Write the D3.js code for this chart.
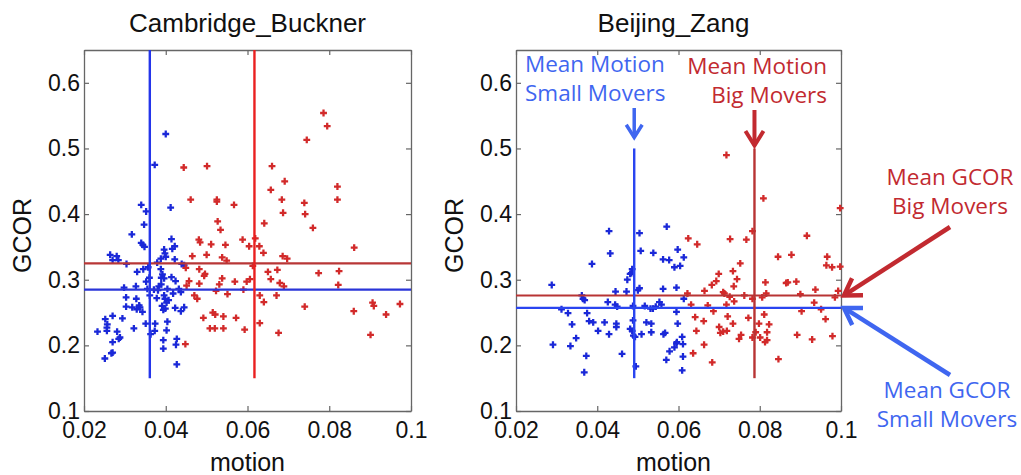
<!DOCTYPE html>
<html>
<head>
<meta charset="utf-8">
<script src="https://cdn.jsdelivr.net/npm/d3@7"></script>
<style>
  body { margin: 0; background: #fff; }
  svg { display: block; }
</style>
</head>
<body>
<div id="chart"></div>
<script>
// Data: [motion, GCOR]
var cambSmall = [
  [0.0400,0.522],[0.0373,0.475],[0.0340,0.414],[0.0352,0.404],[0.0412,0.410],[0.0347,0.384],
  [0.0317,0.369],[0.0414,0.362],[0.0340,0.356],[0.0344,0.353],[0.0348,0.350],[0.0396,0.346],
  [0.0416,0.347],[0.0422,0.351],[0.0280,0.336],[0.0270,0.330],[0.0284,0.330],[0.0388,0.332],
  [0.0400,0.335],[0.0398,0.340],[0.0422,0.331],[0.0304,0.324],[0.0379,0.326],[0.0445,0.322],
  [0.0357,0.319],[0.0345,0.316],[0.0330,0.312],[0.0388,0.316],[0.0392,0.308],[0.0389,0.303],
  [0.0396,0.302],[0.0360,0.303],[0.0414,0.304],[0.0424,0.298],[0.0352,0.297],[0.0389,0.293],
  [0.0383,0.290],[0.0298,0.288],[0.0327,0.290],[0.0355,0.286],[0.0371,0.285],[0.0381,0.284],
  [0.0404,0.286],[0.0432,0.286],[0.0437,0.281],[0.0418,0.279],[0.0361,0.276],[0.0378,0.272],
  [0.0396,0.276],[0.0398,0.271],[0.0407,0.269],[0.0303,0.273],[0.0328,0.271],[0.0402,0.265],
  [0.0391,0.260],[0.0303,0.259],[0.0318,0.258],[0.0329,0.255],[0.0337,0.258],[0.0335,0.261],
  [0.0343,0.251],[0.0394,0.254],[0.0399,0.256],[0.0423,0.257],[0.0445,0.258],[0.0437,0.252],
  [0.0270,0.245],[0.0294,0.241],[0.0252,0.240],[0.0257,0.232],[0.0256,0.227],[0.0351,0.233],
  [0.0374,0.233],[0.0404,0.236],[0.0322,0.226],[0.0233,0.221],[0.0256,0.222],[0.0281,0.221],
  [0.0373,0.222],[0.0363,0.217],[0.0402,0.223],[0.0288,0.212],[0.0285,0.210],[0.0394,0.208],
  [0.0427,0.210],[0.0270,0.205],[0.0394,0.195],[0.0425,0.201],[0.0270,0.189],[0.0267,0.188],
  [0.0251,0.180],[0.0427,0.171],[0.0439,0.324],[0.0264,0.338]
];
var cambBig = [
  [0.0444,0.471],[0.0501,0.473],[0.0461,0.422],[0.0525,0.422],[0.0525,0.419],[0.0567,0.414],
  [0.0527,0.389],[0.0534,0.376],[0.0588,0.361],[0.0481,0.361],[0.0619,0.363],[0.0641,0.386],
  [0.0660,0.473],[0.0657,0.437],[0.0691,0.450],[0.0684,0.422],[0.0687,0.402],[0.0745,0.513],
  [0.0786,0.554],[0.0795,0.534],[0.0739,0.417],[0.0741,0.400],[0.0760,0.379],[0.0820,0.442],
  [0.0820,0.422],[0.0484,0.357],[0.0511,0.354],[0.0546,0.353],[0.0604,0.351],[0.0629,0.351],
  [0.0861,0.349],[0.0500,0.338],[0.0538,0.334],[0.0549,0.329],[0.0639,0.341],[0.0686,0.336],
  [0.0697,0.332],[0.0465,0.336],[0.0613,0.321],[0.0650,0.312],[0.0673,0.315],[0.0657,0.301],
  [0.0679,0.295],[0.0689,0.290],[0.0774,0.310],[0.0824,0.313],[0.0822,0.292],[0.0449,0.318],
  [0.0482,0.316],[0.0496,0.309],[0.0494,0.306],[0.0457,0.298],[0.0451,0.291],[0.0482,0.294],
  [0.0538,0.302],[0.0531,0.293],[0.0569,0.297],[0.0598,0.297],[0.0606,0.301],[0.0590,0.285],
  [0.0523,0.283],[0.0551,0.278],[0.0630,0.276],[0.0640,0.266],[0.0671,0.276],[0.0470,0.276],
  [0.0477,0.271],[0.0740,0.259],[0.0860,0.252],[0.0906,0.265],[0.0909,0.260],[0.0973,0.263],
  [0.0939,0.247],[0.0492,0.242],[0.0515,0.250],[0.0521,0.247],[0.0541,0.244],[0.0572,0.242],
  [0.0508,0.226],[0.0520,0.226],[0.0541,0.226],[0.0593,0.224],[0.0630,0.234],[0.0676,0.219],
  [0.0901,0.216],[0.0448,0.202]
];
var beijSmall = [
  [0.0429,0.374],[0.0432,0.340],[0.0504,0.371],[0.0507,0.344],[0.0538,0.341],[0.0571,0.381],
  [0.0387,0.324],[0.0288,0.292],[0.0562,0.331],[0.0577,0.330],[0.0598,0.346],[0.0590,0.319],
  [0.0604,0.321],[0.0486,0.316],[0.0484,0.310],[0.0481,0.309],[0.0474,0.300],[0.0445,0.282],
  [0.0472,0.282],[0.0500,0.284],[0.0504,0.287],[0.0562,0.286],[0.0595,0.288],[0.0365,0.271],
  [0.0369,0.269],[0.0426,0.266],[0.0444,0.262],[0.0449,0.259],[0.0488,0.260],[0.0517,0.260],
  [0.0531,0.256],[0.0537,0.256],[0.0544,0.259],[0.0553,0.266],[0.0558,0.262],[0.0312,0.255],
  [0.0328,0.249],[0.0375,0.249],[0.0380,0.237],[0.0390,0.235],[0.0338,0.232],[0.0418,0.235],
  [0.0447,0.233],[0.0447,0.228],[0.0488,0.238],[0.0521,0.235],[0.0533,0.233],[0.0598,0.233],
  [0.0402,0.222],[0.0429,0.217],[0.0481,0.225],[0.0486,0.222],[0.0489,0.215],[0.0493,0.213],
  [0.0509,0.217],[0.0533,0.220],[0.0563,0.217],[0.0567,0.219],[0.0348,0.211],[0.0291,0.201],
  [0.0334,0.199],[0.0373,0.184],[0.0461,0.187],[0.0595,0.203],[0.0590,0.197],[0.0578,0.191],
  [0.0570,0.178],[0.0368,0.159],[0.0495,0.168],[0.0609,0.162],[0.0613,0.334],[0.0613,0.271],
  [0.0595,0.251],[0.0609,0.213],[0.0596,0.205],[0.0611,0.202],[0.0611,0.183],[0.0362,0.276]
];
var beijBig = [
  [0.0718,0.490],[0.0809,0.424],[0.0998,0.409],[0.0782,0.374],[0.0624,0.363],[0.0646,0.354],
  [0.0727,0.362],[0.0767,0.361],[0.0916,0.367],[0.0845,0.335],[0.0878,0.338],[0.0966,0.335],
  [0.0964,0.322],[0.0978,0.319],[0.0998,0.320],[0.0752,0.325],[0.0699,0.309],[0.0734,0.313],
  [0.0744,0.301],[0.0693,0.298],[0.0682,0.292],[0.0736,0.290],[0.0814,0.296],[0.0865,0.295],
  [0.0869,0.296],[0.0890,0.297],[0.0664,0.283],[0.0710,0.281],[0.0713,0.279],[0.0726,0.274],
  [0.0762,0.276],[0.0782,0.271],[0.0806,0.273],[0.0816,0.279],[0.0900,0.278],[0.0937,0.285],
  [0.0993,0.283],[0.0985,0.273],[0.0622,0.279],[0.0631,0.262],[0.0672,0.261],[0.0686,0.252],
  [0.0718,0.262],[0.0737,0.267],[0.0934,0.265],[0.0951,0.255],[0.0903,0.252],[0.0641,0.243],
  [0.0662,0.237],[0.0721,0.244],[0.0734,0.233],[0.0772,0.242],[0.0811,0.247],[0.0798,0.233],
  [0.0823,0.232],[0.0962,0.240],[0.0644,0.222],[0.0700,0.228],[0.0703,0.219],[0.0710,0.221],
  [0.0719,0.222],[0.0818,0.220],[0.0790,0.220],[0.0782,0.212],[0.0801,0.212],[0.0754,0.216],
  [0.0749,0.210],[0.0818,0.208],[0.0813,0.205],[0.0892,0.216],[0.0929,0.209],[0.0979,0.214],
  [0.0663,0.201],[0.0636,0.188],[0.0683,0.174],[0.0846,0.179]
];

// mean lines: [small movers, big movers]
var cambMeanMotion = [0.0361, 0.0617];
var cambMeanGcor = [0.285, 0.325];
var beijMeanMotion = [0.0491, 0.0787];
var beijMeanGcor = [0.257, 0.276];

var xTicks = [0.02, 0.04, 0.06, 0.08, 0.1];
var yTicks = [0.1, 0.2, 0.3, 0.4, 0.5, 0.6];
var xDomain = [0.02, 0.1];
var yDomain = [0.1, 0.65];

var svg = d3.select("#chart").append("svg")
  .attr("width", 1021)
  .attr("height", 475);

var plotTop = 50, plotBottom = 411;
var blue = "#1a28d8", red = "#d22a2a";

var panels = [
  {title: "Cambridge_Buckner", x0: 84, x1: 411, small: cambSmall, big: cambBig,
   motion: cambMeanMotion, gcor: cambMeanGcor, vTop: 0.65, labelShift: 0,
   vColors: ["#2435ea", "#ea2020"], hColors: ["#2a35d8", "#b83636"]},
  {title: "Beijing_Zang", x0: 516, x1: 841, small: beijSmall, big: beijBig,
   motion: beijMeanMotion, gcor: beijMeanGcor, vTop: 0.5, labelShift: -5,
   vColors: ["#2a45f0", "#b83434"], hColors: ["#2a45f0", "#b83434"]}
];

var font = "'Liberation Sans', Arial, sans-serif";

panels.forEach(function(p) {
  var x = d3.scaleLinear().domain(xDomain).range([p.x0, p.x1]);
  var y = d3.scaleLinear().domain(yDomain).range([plotBottom, plotTop]);
  p.x = x; p.y = y;

  var g = svg.append("g");

  // frame with inward ticks on all four sides
  g.append("g").attr("transform", `translate(0,${plotBottom})`)
    .call(d3.axisBottom(x).tickValues(xTicks).tickSize(-5).tickSizeOuter(0).tickPadding(11)
      .tickFormat(d3.format("~g")));
  g.append("g").attr("transform", `translate(0,${plotTop})`)
    .call(d3.axisTop(x).tickValues(xTicks).tickSize(-5).tickSizeOuter(0).tickFormat(""));
  g.append("g").attr("transform", `translate(${p.x0},0)`)
    .call(d3.axisLeft(y).tickValues(yTicks).tickSize(-5).tickSizeOuter(0).tickPadding(4)
      .tickFormat(d3.format(".1f")));
  g.append("g").attr("transform", `translate(${p.x1},0)`)
    .call(d3.axisRight(y).tickValues(yTicks).tickSize(-5).tickSizeOuter(0).tickFormat(""));

  g.selectAll(".domain").attr("stroke", "#666").attr("stroke-width", 1.3);
  g.selectAll(".tick line").attr("stroke", "#666").attr("stroke-width", 1.2);
  g.selectAll(".tick text").attr("font-family", font).attr("font-size", "23px").attr("fill", "#111");

  // points
  var sym = d3.symbol().type(d3.symbolCross).size(26);
  g.append("g").selectAll("path")
    .data(p.small).enter().append("path")
    .attr("d", sym)
    .attr("transform", d => `translate(${x(d[0])},${y(d[1])})`)
    .attr("fill", blue);
  g.append("g").selectAll("path")
    .data(p.big).enter().append("path")
    .attr("d", sym)
    .attr("transform", d => `translate(${x(d[0])},${y(d[1])})`)
    .attr("fill", red);

  // mean lines
  p.gcor.forEach(function(v, i) {
    g.append("line")
      .attr("x1", p.x0).attr("x2", p.x1)
      .attr("y1", y(v)).attr("y2", y(v))
      .attr("stroke", p.hColors[i]).attr("stroke-width", 2.2);
  });
  p.motion.forEach(function(v, i) {
    g.append("line")
      .attr("x1", x(v)).attr("x2", x(v))
      .attr("y1", y(p.vTop)).attr("y2", y(0.15))
      .attr("stroke", p.vColors[i]).attr("stroke-width", 2.4);
  });

  // labels
  var cx = (p.x0 + p.x1) / 2 + p.labelShift;
  g.append("text")
    .attr("x", cx).attr("y", 32)
    .attr("text-anchor", "middle")
    .attr("font-family", font).attr("font-size", "26px").attr("fill", "#111")
    .text(p.title);
  g.append("text")
    .attr("x", cx).attr("y", 471)
    .attr("text-anchor", "middle")
    .attr("font-family", font).attr("font-size", "25px").attr("fill", "#111")
    .text("motion");
  g.append("text")
    .attr("transform", `translate(${p.x0 - 53},${(plotTop + plotBottom) / 2 + 5}) rotate(-90)`)
    .attr("text-anchor", "middle")
    .attr("font-family", font).attr("font-size", "25px").attr("fill", "#111")
    .text("GCOR");
});

// annotations on the Beijing panel
var bz = panels[1];
var annBlue = "#3f66f0", annRed = "#c22a30";
var annFont = "'Open Sans', 'Noto Sans', sans-serif";

function arrow(x1, y1, x2, y2, color, w, head) {
  var a = Math.atan2(y1 - y2, x1 - x2);
  var spread = 0.56;
  svg.append("line")
    .attr("x1", x1).attr("y1", y1).attr("x2", x2).attr("y2", y2)
    .attr("stroke", color).attr("stroke-width", w);
  svg.append("path")
    .attr("d", `M${x2 + head * Math.cos(a + spread)},${y2 + head * Math.sin(a + spread)}L${x2},${y2}L${x2 + head * Math.cos(a - spread)},${y2 + head * Math.sin(a - spread)}`)
    .attr("fill", "none").attr("stroke", color).attr("stroke-width", w)
    .attr("stroke-linejoin", "miter");
}

function label(lines, x, y0, anchor, color) {
  var t = svg.append("text")
    .attr("text-anchor", anchor)
    .attr("font-family", annFont).attr("font-size", "22.5px").attr("fill", color);
  lines.forEach(function(s, i) {
    t.append("tspan").attr("x", x).attr("y", y0 + i * 29).text(s);
  });
}

label(["Mean Motion", "Small Movers"], 525, 72, "start", annBlue);
label(["Mean Motion", "Big Movers"], 827, 74, "end", annRed);
label(["Mean GCOR", "Big Movers"], 950, 185, "middle", annRed);
label(["Mean GCOR", "Small Movers"], 947, 398, "middle", annBlue);

var bxS = bz.x(beijMeanMotion[0]), bxB = bz.x(beijMeanMotion[1]);
arrow(bxS, 108, bxS, bz.y(0.5) - 11, annBlue, 3.5, 15);
arrow(bxB, 110, bxB, bz.y(0.5) - 3, annRed, 4, 17);
arrow(950, 227, bz.x1 + 3, bz.y(beijMeanGcor[1]), annRed, 4.5, 19);
arrow(950, 375, bz.x1 + 3, bz.y(beijMeanGcor[0]), annBlue, 4.5, 19);
</script>
</body>
</html>
